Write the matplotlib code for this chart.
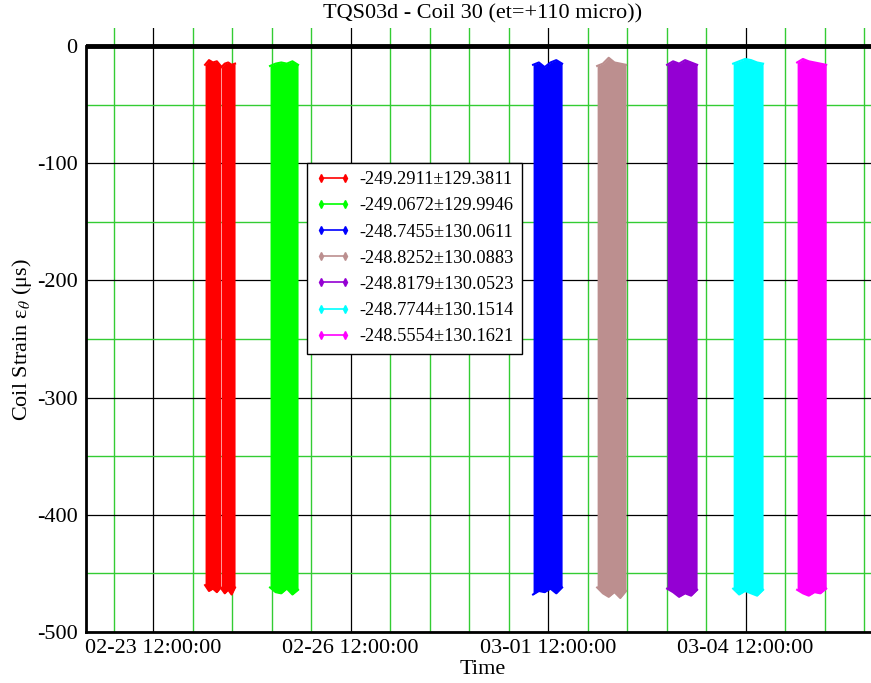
import numpy as np
import pandas as pd
import matplotlib
matplotlib.use("Agg")
import matplotlib.pyplot as plt
import matplotlib.dates as mdates
from matplotlib.lines import Line2D

plt.rcParams['font.family'] = ['Liberation Serif', 'DejaVu Serif']
plt.rcParams['mathtext.fontset'] = 'stix'
plt.rcParams['axes.unicode_minus'] = False

# ---- data ----
labels = ['-249.2911\u00b1129.3811', '-249.0672\u00b1129.9946', '-248.7455\u00b1130.0611',
          '-248.8252\u00b1130.0883', '-248.8179\u00b1130.0523', '-248.7744\u00b1130.1514',
          '-248.5554\u00b1130.1621']
colors = ['#ff0000', '#00ff00', '#0000ff', '#bc8f8f', '#9400d3', '#00ffff', '#ff00ff']

# recording runs (start, end) for each series
runs = [
    [('2009-02-24 06:58', '2009-02-24 12:42'), ('2009-02-24 12:54', '2009-02-24 17:54')],
    [('2009-02-25 06:39', '2009-02-25 16:52')],
    [('2009-03-01 06:32', '2009-03-01 17:07')],
    [('2009-03-02 05:53', '2009-03-02 16:26')],
    [('2009-03-03 07:23', '2009-03-03 18:20')],
    [('2009-03-04 07:28', '2009-03-04 18:23')],
    [('2009-03-05 06:47', '2009-03-05 17:23')],
]
# upper / lower envelope of the strain signal during each run
tops = [
    [[-16, -12, -14, -13, -17], [-18, -15, -14, -16, -15]],
    [[-17, -15, -14, -15, -13, -16]],
    [[-16, -14, -18, -14, -12, -15]],
    [[-17, -15, -10, -14, -15, -16]],
    [[-16, -13, -15, -12, -14, -16]],
    [[-15, -13, -11, -12, -14, -15]],
    [[-14, -11, -13, -14, -15, -16]],
]
bottoms = [
    [[-460, -465, -463, -466, -462], [-463, -467, -464, -468, -462]],
    [[-462, -466, -467, -463, -468, -464]],
    [[-468, -465, -466, -463, -467, -462]],
    [[-462, -467, -470, -466, -471, -465]],
    [[-463, -466, -470, -467, -469, -464]],
    [[-463, -468, -465, -467, -469, -464]],
    [[-464, -467, -469, -466, -467, -463]],
]

title = 'TQS03d - Coil 30 (et=+110 micro))'

W, H = 871, 683
fig = plt.figure(figsize=(W / 100, H / 100), dpi=100)
ax = fig.add_axes([86 / W, 1 - 632 / H, (880 - 86) / W, (632 - 28) / H])

for k in range(len(labels)):
    for (t0, t1), top, bot in zip(runs[k], tops[k], bottoms[k]):
        t = pd.date_range(t0, t1, periods=len(top))
        ax.fill_between(t, bot, top, color=colors[k], lw=0, zorder=3)
        ax.plot(t, top, color=colors[k], lw=1.5, zorder=3)
        ax.plot(t, bot, color=colors[k], lw=1.5, zorder=3)

x0 = pd.Timestamp('2009-02-22 11:34')
x1 = pd.Timestamp('2009-03-06 13:00')

major = pd.date_range('2009-02-20 12:00', '2009-03-10 12:00', freq='3D')
minor = pd.date_range('2009-02-20 12:00', '2009-03-10 12:00', freq='864min')
ax.set_xticks(mdates.date2num(major))
ax.set_xticks(mdates.date2num(minor), minor=True)
ax.xaxis.set_major_formatter(mdates.DateFormatter('%m-%d %H:%M:%S'))
ax.set_yticks(np.arange(-500, 1, 100))
ax.set_yticks(np.arange(-450, 1, 100), minor=True)
ax.set_xlim(x0, x1)
ax.set_ylim(-500, 15.4)

ax.grid(which='minor', color='#33cc33', lw=1.0, zorder=1)
ax.grid(which='major', color='black', lw=0.9, zorder=1)
ax.set_axisbelow(True)
ax.tick_params(which='both', length=0)
ax.tick_params(axis='y', labelsize=16, pad=6)
ax.tick_params(axis='x', labelsize=16, pad=5)

ax.spines['top'].set_visible(False)
ax.spines['right'].set_visible(False)
ax.spines['left'].set_bounds(-500, 0)
ax.spines['left'].set_linewidth(2)
ax.spines['bottom'].set_linewidth(2)
ax.axhline(0, color='black', lw=3.5, zorder=5)

fig.text(483 / W, 1 - 14 / H, title, ha='center', va='center', fontsize=16)
fig.text(483 / W, 1 - 670 / H, 'Time', ha='center', va='center', fontsize=16)
fig.text(22 / W, 1 - 340 / H, 'Coil Strain \u03b5$_\\theta$ (\u03bcs)', rotation=90,
         ha='center', va='center', fontsize=16)

handles = [Line2D([], [], color=c, lw=1.2, marker='d', ms=4) for c in colors]
leg = fig.legend(handles, labels, loc='upper left', bbox_to_anchor=(307 / W, 1 - 163 / H),
                 bbox_transform=fig.transFigure, borderaxespad=0, fontsize=13.2,
                 numpoints=2, handlelength=1.9, handletextpad=0.5, labelspacing=0.5,
                 borderpad=0.45, fancybox=False, framealpha=1, edgecolor='black')
leg.get_frame().set_linewidth(1.0)
leg.set_zorder(10)

fig.savefig('out.png', dpi=100)
